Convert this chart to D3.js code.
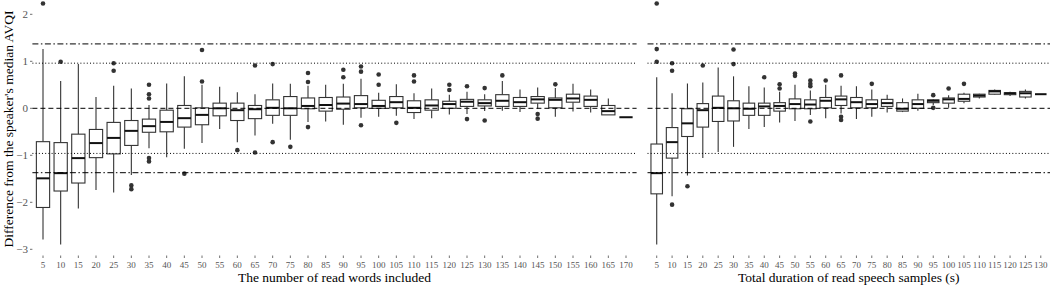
<!DOCTYPE html>
<html>
<head>
<meta charset="utf-8">
<script src="https://cdn.jsdelivr.net/npm/d3@7"></script>
<style>
  body { margin: 0; background: #fff; }
  svg { display: block; font-family: "Liberation Serif", "DejaVu Serif", serif; }
</style>
</head>
<body>
<div id="chart"></div>
<script>
// Left panel: number of read words included
const wordCats = [5,10,15,20,25,30,35,40,45,50,55,60,65,70,75,80,85,90,95,100,105,110,115,120,125,130,135,140,145,150,155,160,165,170];
const wordLow  = [-2.79,-2.90,-2.13,-1.74,-1.79,-1.42,-0.85,-1.04,-0.86,-0.74,-0.44,-0.72,-0.58,-0.33,-0.67,-0.29,-0.28,-0.35,-0.20,-0.18,-0.16,-0.23,-0.21,-0.13,-0.12,-0.06,-0.05,-0.08,-0.01,-0.18,-0.07,-0.09,-0.14,-0.19];
const wordQ1   = [-2.11,-1.76,-1.59,-1.05,-0.97,-0.79,-0.51,-0.50,-0.40,-0.35,-0.16,-0.26,-0.22,-0.15,-0.15,-0.01,-0.06,-0.02,0.01,0.00,0.01,-0.09,-0.04,0.00,0.04,0.05,0.04,0.04,0.11,0.01,0.13,0.04,-0.14,-0.19];
const wordMed  = [-1.49,-1.38,-1.06,-0.74,-0.63,-0.48,-0.38,-0.29,-0.21,-0.14,0.00,-0.04,-0.02,0.01,0.00,0.05,0.07,0.10,0.09,0.05,0.13,0.01,0.06,0.09,0.14,0.11,0.16,0.13,0.19,0.18,0.21,0.18,-0.06,-0.19];
const wordQ3   = [-0.71,-0.73,-0.55,-0.45,-0.30,-0.26,-0.23,-0.04,0.06,0.01,0.11,0.11,0.06,0.18,0.25,0.22,0.23,0.24,0.27,0.17,0.25,0.16,0.18,0.15,0.19,0.18,0.29,0.23,0.25,0.22,0.30,0.26,0.06,-0.19];
const wordHigh = [1.26,0.58,0.94,0.24,0.48,0.42,0.07,0.53,0.68,0.50,0.46,0.34,0.30,0.53,0.52,0.48,0.50,0.52,0.63,0.33,0.51,0.32,0.42,0.29,0.35,0.30,0.58,0.40,0.44,0.43,0.52,0.40,0.21,-0.19];
const wordOut  = [[2.23],[0.99],[],[],[0.96,0.80],[-1.64,-1.72],[0.50,0.30,0.21,-1.06,-1.13],[],[-1.39],[1.24,0.57],[],[-0.89],[0.91,-0.94],[0.94,-0.72],[-0.82],[0.75,0.56,-0.40],[],[0.82,0.66],[0.89,0.78,-0.36],[0.72,0.50],[-0.31],[0.70,0.57],[],[0.50,0.39],[0.47,-0.23],[0.43,-0.26],[0.70],[],[-0.12,-0.22],[0.51],[],[],[],[]];

// Right panel: total duration of read speech samples (s)
const durCats = [5,10,15,20,25,30,35,40,45,50,55,60,65,70,75,80,85,90,95,100,105,110,115,120,125,130];
const durLow  = [-2.90,-1.87,-1.43,-1.06,-0.93,-0.82,-0.44,-0.40,-0.30,-0.27,-0.14,-0.21,-0.11,-0.23,-0.18,-0.09,-0.08,-0.05,0.07,0.01,0.11,0.21,0.29,0.26,0.21,0.30];
const durQ1   = [-1.82,-1.06,-0.60,-0.40,-0.28,-0.27,-0.15,-0.15,-0.06,-0.01,-0.01,0.01,0.06,0.01,0.01,0.04,-0.06,0.00,0.12,0.11,0.15,0.24,0.30,0.29,0.24,0.30];
const durMed  = [-1.38,-0.72,-0.32,-0.04,0.01,0.00,-0.01,0.04,0.05,0.09,0.08,0.16,0.19,0.13,0.09,0.11,-0.01,0.09,0.16,0.19,0.20,0.27,0.36,0.32,0.32,0.30];
const durQ3   = [-0.76,-0.41,-0.01,0.10,0.26,0.16,0.11,0.11,0.12,0.20,0.18,0.23,0.26,0.23,0.18,0.19,0.12,0.18,0.18,0.22,0.30,0.30,0.38,0.33,0.36,0.30];
const durHigh = [0.66,0.32,0.53,0.55,0.87,0.68,0.47,0.44,0.35,0.50,0.38,0.50,0.48,0.47,0.40,0.29,0.21,0.31,0.20,0.28,0.33,0.31,0.40,0.35,0.40,0.30];
const durOut  = [[2.23,1.26,0.99],[0.96,0.80,-2.05],[-1.66],[0.91],[],[1.25,0.94],[],[0.66],[0.51,0.42],[0.74,0.69],[0.59,0.52,0.47,-0.28],[0.59],[0.70,-0.18,-0.25],[],[0.52],[],[],[],[0.28,0.01],[0.42],[0.52],[],[],[],[],[]];

const yTicks = [-3,-2,-1,0,1,2];
const refLines = [
    { v: 1.37, dash: "6,2.5,1.5,2.5" },
    { v: 0.96, dash: "1,2.2" },
    { v: 0, dash: "5,3" },
    { v: -0.96, dash: "1,2.2" },
    { v: -1.37, dash: "6,2.5,1.5,2.5" }
];

const W = 1052, H = 285;
const svg = d3.select("#chart").append("svg")
    .attr("width", W)
    .attr("height", H);

const y = d3.scaleLinear().domain([-3, 2]).range([249.3, 14.3]);

// y axis ticks and labels
const yAxis = svg.append("g");
yAxis.selectAll("line").data(yTicks).enter().append("line")
    .attr("x1", 30).attr("x2", 32.4)
    .attr("y1", d => y(d)).attr("y2", d => y(d))
    .attr("stroke", "#4d4d4d").attr("stroke-width", 0.8);
yAxis.selectAll("text").data(yTicks).enter().append("text")
    .attr("x", 28).attr("y", d => y(d))
    .attr("dy", "0.35em")
    .attr("text-anchor", "end")
    .style("font-size", "11px")
    .style("fill", "#555")
    .text(d => d < 0 ? "\u2212" + Math.abs(d) : d);

svg.append("text")
    .attr("transform", `translate(13, ${(y(2.2) + y(-3.08)) / 2}) rotate(-90)`)
    .attr("text-anchor", "middle")
    .style("font-size", "13.5px")
    .style("fill", "#000")
    .text("Difference from the speaker's median AVQI");

function drawPanel(x0, x1, cats, low, q1, med, q3, high, outs, title) {
    const x = d3.scalePoint().domain(cats).range([x0, x1]).padding(0.6);
    const bw = x.step() * 0.75;
    const g = svg.append("g");

    const rows = cats.map((c, i) => ({ c, low: low[i], q1: q1[i], med: med[i], q3: q3[i], high: high[i], outs: outs[i] }));

    const box = g.selectAll("g.box").data(rows).enter().append("g").attr("class", "box");

    // whiskers
    box.append("line")
        .attr("x1", d => x(d.c)).attr("x2", d => x(d.c))
        .attr("y1", d => y(d.high)).attr("y2", d => y(d.q3))
        .attr("stroke", "#333").attr("stroke-width", 1.1);
    box.append("line")
        .attr("x1", d => x(d.c)).attr("x2", d => x(d.c))
        .attr("y1", d => y(d.q1)).attr("y2", d => y(d.low))
        .attr("stroke", "#333").attr("stroke-width", 1.1);

    // box
    box.append("rect")
        .attr("x", d => x(d.c) - bw / 2)
        .attr("width", bw)
        .attr("y", d => y(d.q3))
        .attr("height", d => Math.max(0, y(d.q1) - y(d.q3)))
        .attr("fill", "#fff")
        .attr("stroke", "#333").attr("stroke-width", 1.1);

    // median
    box.append("line")
        .attr("x1", d => x(d.c) - bw / 2).attr("x2", d => x(d.c) + bw / 2)
        .attr("y1", d => y(d.med)).attr("y2", d => y(d.med))
        .attr("stroke", "#111").attr("stroke-width", 2);

    // outliers
    box.selectAll("circle").data(d => d.outs.map(v => ({ c: d.c, v }))).enter().append("circle")
        .attr("cx", d => x(d.c)).attr("cy", d => y(d.v))
        .attr("r", 2.3)
        .attr("fill", "#333");

    // reference lines, drawn over the boxes
    g.selectAll("line.ref").data(refLines).enter().append("line")
        .attr("class", "ref")
        .attr("x1", x0).attr("x2", x1)
        .attr("y1", d => y(d.v)).attr("y2", d => y(d.v))
        .attr("stroke", "#000").attr("stroke-width", 1)
        .attr("stroke-dasharray", d => d.dash);

    // x ticks
    g.selectAll("line.xt").data(cats).enter().append("line")
        .attr("class", "xt")
        .attr("x1", d => x(d)).attr("x2", d => x(d))
        .attr("y1", 255.5).attr("y2", 258)
        .attr("stroke", "#4d4d4d").attr("stroke-width", 0.8);
    g.selectAll("text.xt").data(cats).enter().append("text")
        .attr("class", "xt")
        .attr("x", d => x(d)).attr("y", 268)
        .attr("text-anchor", "middle")
        .style("font-size", "9px")
        .style("fill", "#555")
        .text(d => d);

    g.append("text")
        .attr("x", (x0 + x1) / 2).attr("y", 281.5)
        .attr("text-anchor", "middle")
        .style("font-size", "13.5px")
        .style("fill", "#000")
        .text(title);
}

drawPanel(32.4, 636.6, wordCats, wordLow, wordQ1, wordMed, wordQ3, wordHigh, wordOut, "The number of read words included");
drawPanel(647.5, 1050, durCats, durLow, durQ1, durMed, durQ3, durHigh, durOut, "Total duration of read speech samples (s)");
</script>
</body>
</html>
